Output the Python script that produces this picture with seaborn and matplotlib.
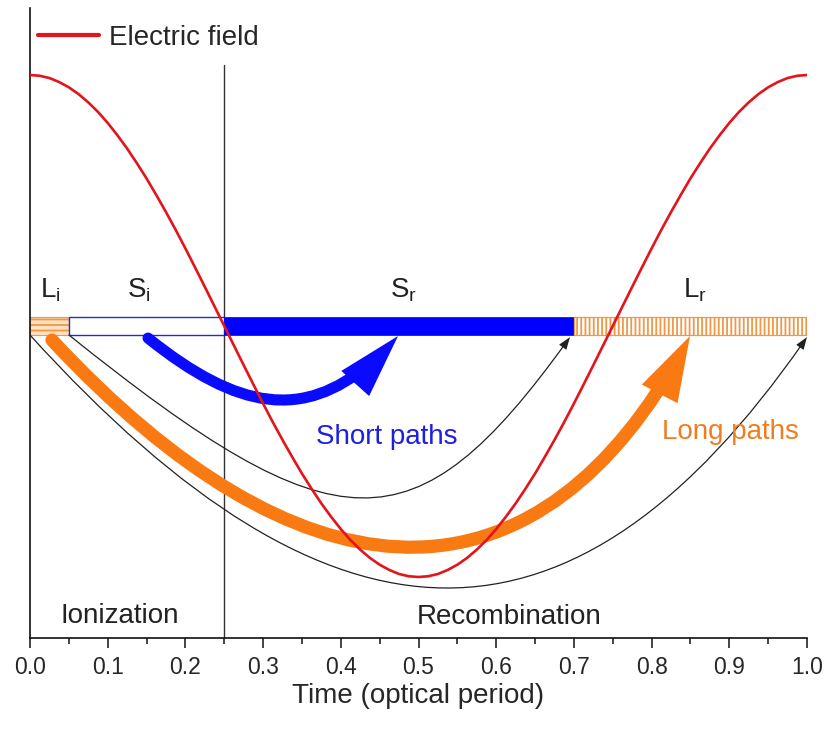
import numpy as np
import pandas as pd
import matplotlib
matplotlib.use("Agg")
import matplotlib.pyplot as plt
import seaborn as sns
from matplotlib.path import Path
from matplotlib.patches import FancyArrowPatch, ArrowStyle
from matplotlib.ticker import MultipleLocator
from matplotlib.bezier import split_path_inout, inside_circle

# ---------------- data ----------------
time = [0.0000, 0.0125, 0.0250, 0.0375, 0.0500, 0.0625, 0.0750, 0.0875, 0.1000, 0.1125,
        0.1250, 0.1375, 0.1500, 0.1625, 0.1750, 0.1875, 0.2000, 0.2125, 0.2250, 0.2375,
        0.2500, 0.2625, 0.2750, 0.2875, 0.3000, 0.3125, 0.3250, 0.3375, 0.3500, 0.3625,
        0.3750, 0.3875, 0.4000, 0.4125, 0.4250, 0.4375, 0.4500, 0.4625, 0.4750, 0.4875,
        0.5000, 0.5125, 0.5250, 0.5375, 0.5500, 0.5625, 0.5750, 0.5875, 0.6000, 0.6125,
        0.6250, 0.6375, 0.6500, 0.6625, 0.6750, 0.6875, 0.7000, 0.7125, 0.7250, 0.7375,
        0.7500, 0.7625, 0.7750, 0.7875, 0.8000, 0.8125, 0.8250, 0.8375, 0.8500, 0.8625,
        0.8750, 0.8875, 0.9000, 0.9125, 0.9250, 0.9375, 0.9500, 0.9625, 0.9750, 0.9875,
        1.0000]
field = [1.000, 0.997, 0.988, 0.972, 0.951, 0.924, 0.891, 0.853, 0.809, 0.760,
         0.707, 0.649, 0.588, 0.522, 0.454, 0.383, 0.309, 0.233, 0.156, 0.078,
         0.000, -0.078, -0.156, -0.233, -0.309, -0.383, -0.454, -0.522, -0.588, -0.649,
         -0.707, -0.760, -0.809, -0.853, -0.891, -0.924, -0.951, -0.972, -0.988, -0.997,
         -1.000, -0.997, -0.988, -0.972, -0.951, -0.924, -0.891, -0.853, -0.809, -0.760,
         -0.707, -0.649, -0.588, -0.522, -0.454, -0.383, -0.309, -0.233, -0.156, -0.078,
         0.000, 0.078, 0.156, 0.233, 0.309, 0.383, 0.454, 0.522, 0.588, 0.649,
         0.707, 0.760, 0.809, 0.853, 0.891, 0.924, 0.951, 0.972, 0.988, 0.997,
         1.000]

# time segments on the bar: L_i, S_i, S_r, L_r
seg_names = ["Li", "Si", "Sr", "Lr"]
seg_start = [0.00, 0.05, 0.25, 0.70]
seg_end = [0.05, 0.25, 0.70, 1.00]
seg_labels = [r"$\mathregular{L_i}$", r"$\mathregular{S_i}$", r"$\mathregular{S_r}$", r"$\mathregular{L_r}$"]
seg_label_x = [0.013, 0.125, 0.463, 0.840]

# trajectory control points (cubic Bezier: start, ctrl1, ctrl2, end)
traj_short_x = [0.0502, 0.3977, 0.4968, 0.6950]
traj_short_y = [-0.036, -0.900, -0.900, -0.044]
traj_long_x = [0.000, 0.3938, 0.7027, 1.000]
traj_long_y = [-0.036, -1.3785, -1.3785, -0.044]
orange_x = [0.0283, 0.3600, 0.6600, 0.8494]
orange_y = [-0.056, -1.159, -1.159, -0.040]
blue_x = [0.1519, 0.2850, 0.3750, 0.4736]
blue_y = [-0.048, -0.3785, -0.3785, -0.040]

tick_vals = [0.0, 0.1, 0.2, 0.3, 0.4, 0.5, 0.6, 0.7, 0.8, 0.9, 1.0]
tick_labels = ["0.0", "0.1", "0.2", "0.3", "0.4", "0.5", "0.6", "0.7", "0.8", "0.9", "1.0"]

# ---------------- style ----------------
sns.set_style("white")
plt.rcParams["font.family"] = ["Liberation Sans", "DejaVu Sans"]
plt.rcParams["hatch.linewidth"] = 1.3

RED = "#e3141b"
ORANGE = "#f97a12"
BLUE = "#0a0aff"

fig = plt.figure(figsize=(8.27, 7.35), dpi=100)
ax = fig.add_axes([30 / 827, 1 - 638 / 735, 777 / 827, 630 / 735])

ylo, yhi = -1.243, 1.267
ax.set_xlim(0, 1)
ax.set_ylim(ylo, yhi)

# vertical separator at 0.25 (ionization / recombination)
ax.axvline(0.25, ymin=0, ymax=0.91, color="#333333", lw=1.0, zorder=1.5)

# bar segments
bar_h = 0.072
styles = {
    "Li": dict(facecolor="#fde0c2", edgecolor="#f09848", hatch="---", lw=0.8),
    "Si": dict(facecolor="white", edgecolor="#2a2ad0", lw=1.0),
    "Sr": dict(facecolor="#0000ff", edgecolor="#0000ff", lw=0.5),
    "Lr": dict(facecolor="white", edgecolor="#f09848", hatch="||||", lw=0.9),
}
for name, s, e in zip(seg_names, seg_start, seg_end):
    ax.barh(0, e - s, left=s, height=bar_h, zorder=2, **styles[name])

for lab, lx in zip(seg_labels, seg_label_x):
    ax.text(lx, 0.112, lab, fontsize=20, ha="left", va="baseline", color="#222222", zorder=6)


def bez(xs, ys):
    codes = [Path.MOVETO, Path.CURVE4, Path.CURVE4, Path.CURVE4]
    return Path(list(zip(xs, ys)), codes)


def add_arrow(xs, ys, color, lw, hl, hw, z, shrink_px):
    p = bez(xs, ys)
    # shaft: cut back from the tip in display space so it ends inside the head
    pd_ = ax.transData.transform_path(p)
    ex, ey = pd_.vertices[-1]
    try:
        shaft_disp, _ = split_path_inout(pd_, inside_circle(ex, ey, shrink_px))
    except ValueError:
        shaft_disp = pd_
    shaft_path = ax.transData.inverted().transform_path(shaft_disp)
    shaft = FancyArrowPatch(path=shaft_path, arrowstyle="-", color=color, lw=lw,
                            capstyle="round", zorder=z)
    ax.add_patch(shaft)
    # filled head
    head = FancyArrowPatch(path=p,
                           arrowstyle=ArrowStyle("-|>", head_length=hl, head_width=hw),
                           mutation_scale=10, facecolor=color, edgecolor="none", lw=0,
                           zorder=z)
    ax.add_patch(head)


add_arrow(traj_short_x, traj_short_y, "#222222", 0.9, 0.9, 0.32, 3, 6)
add_arrow(traj_long_x, traj_long_y, "#222222", 0.9, 0.9, 0.32, 3, 6)
add_arrow(orange_x, orange_y, ORANGE, 9.5, 4.7, 1.45, 4, 40)
add_arrow(blue_x, blue_y, BLUE, 8.0, 4.6, 1.35, 4, 40)

# electric field
df = pd.DataFrame({"time": time, "field": field})
sns.lineplot(data=df, x="time", y="field", color=RED, lw=1.9, ax=ax,
             label="Electric field", zorder=5)

ax.text(0.459, -0.442, "Short paths", color="#1f1fe0", fontsize=20, ha="center", va="center", zorder=6)
ax.text(0.902, -0.422, "Long paths", color="#f07d22", fontsize=20, ha="center", va="center", zorder=6)
ax.text(0.116, -1.155, "Ionization", color="#222222", fontsize=20, ha="center", va="center", zorder=6)
ax.text(0.616, -1.160, "Recombination", color="#222222", fontsize=20, ha="center", va="center", zorder=6)

# axes styling
for sp in ["top", "right"]:
    ax.spines[sp].set_visible(False)
for sp in ["left", "bottom"]:
    ax.spines[sp].set_color("#111111")
    ax.spines[sp].set_linewidth(1.2)
ax.set_yticks([])
ax.set_ylabel("")
ax.set_xticks(tick_vals)
ax.set_xticklabels(tick_labels)
ax.xaxis.set_minor_locator(MultipleLocator(0.05))
ax.tick_params(axis="x", which="major", direction="out", length=7, width=1.1,
               labelsize=16.5, pad=6, color="#111111", bottom=True)
ax.tick_params(axis="x", which="minor", direction="out", length=4, width=1.1,
               color="#111111", bottom=True)
ax.set_xlabel("Time (optical period)", fontsize=20, labelpad=3)

leg = ax.legend(loc="upper left", bbox_to_anchor=(38 / 827, 1 - 25 / 735),
                bbox_transform=fig.transFigure, frameon=False, fontsize=20,
                handlelength=2.2, handletextpad=0.35, borderpad=0, borderaxespad=0)
for l in leg.get_lines():
    l.set_linewidth(3)

fig.savefig("out.png", dpi=100)
